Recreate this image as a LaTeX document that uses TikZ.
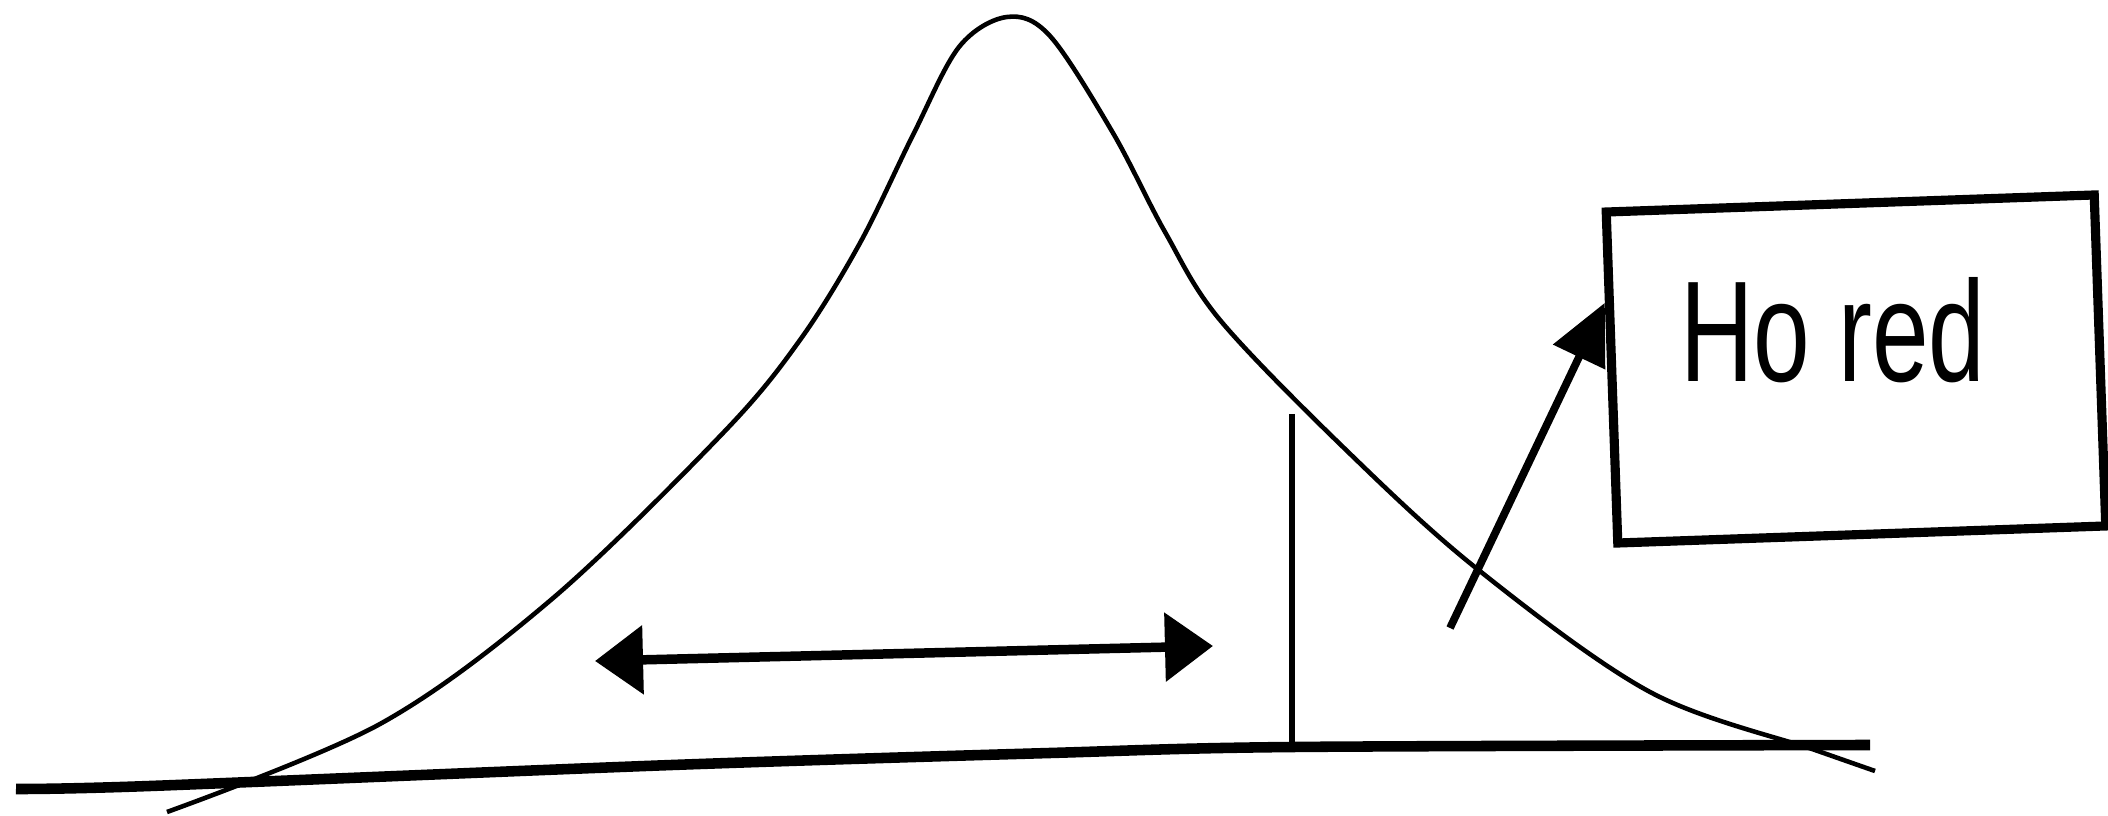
\documentclass[tikz,border=0pt]{standalone}
\usepackage{graphicx}
\usepackage{fontspec}
\newfontfamily\boxfont{Liberation Sans}
\usetikzlibrary{arrows.meta,calc}

\begin{document}
\begin{tikzpicture}[x=0.01cm,y=-0.01cm,
    curve/.style={line width=1.3pt,line join=round},
    axisline/.style={line width=3pt},
    dblarrow/.style={line width=2.7pt,{Triangle[length=0.48cm,width=0.67cm]}-{Triangle[length=0.48cm,width=0.67cm]}},
    pointer/.style={line width=2.2pt,-{Triangle[length=0.6cm,width=0.56cm]}},
    labelbox/.style={draw,line width=2.6pt,minimum width=4.88cm,minimum height=3.31cm,inner sep=0pt,rotate=2},
    boxtext/.style={font=\boxfont,inner sep=0pt}]
    \useasboundingbox (0,0) rectangle (2108,816);

    % base line
    \draw[axisline] plot[smooth,tension=0.5] coordinates {(16,789) (150,786) (672,765) (1050,753) (1293,747) (1870,745)};

    % bell curve
    \draw[curve] plot[smooth,tension=0.55] coordinates {(167,812) (380,724) (552,599) (724,432) (800,340)
        (860,243) (913,135) (959,47) (1007,17) (1050,36) (1113,133) (1165,232) (1220,320) (1344,448)
        (1476,568) (1650,692) (1815,750) (1875,771)};

    % cut-off line
    \coordinate (cuttop) at (1292,414);
    \coordinate (cutbot) at (1292,747);
    \draw[line width=1.8pt] (cuttop) -- (cutbot);

    % double arrow
    \coordinate (arrl) at (595,661);
    \coordinate (arrr) at (1213,646);
    \draw[dblarrow] (arrl) -- (arrr);

    % box and pointer
    \node[labelbox] (hobox) at (1856,369) {};
    \node[boxtext] (hotext) at (1833,330) {\resizebox{3.05cm}{1.04cm}{Ho red}};
    \coordinate (ptail) at (1450,628);
    \draw[pointer] (ptail) -- ($(hobox.north west)!0.28!(hobox.south west)$);
\end{tikzpicture}
\end{document}
